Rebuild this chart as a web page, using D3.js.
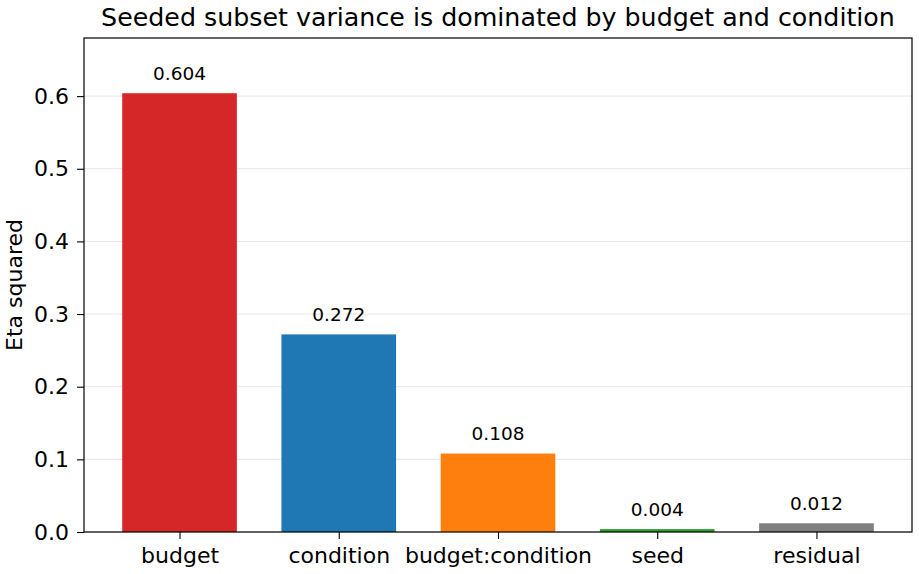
<!DOCTYPE html>
<html>
<head>
<meta charset="utf-8">
<script src="https://cdn.jsdelivr.net/npm/d3@7"></script>
<style>
  body { margin: 0; background: #fff; }
  text { font-family: "DejaVu Sans", sans-serif; fill: #000; }
</style>
</head>
<body>
<svg id="chart"></svg>
<script>
// data
var terms = ["budget", "condition", "budget:condition", "seed", "residual"];
var etaSq = [0.604, 0.272, 0.108, 0.004, 0.012];
var barColors = ["#d62728", "#1f77b4", "#ff7f0e", "#2ca02c", "#7f7f7f"];
var yTicks = [0.0, 0.1, 0.2, 0.3, 0.4, 0.5, 0.6];

var size = { width: 919, height: 574 };
var margin = { top: 38, right: 7, bottom: 42, left: 84 };
var width = size.width - margin.left - margin.right;
var height = size.height - margin.top - margin.bottom;

var svg = d3.select("#chart")
  .attr("width", size.width)
  .attr("height", size.height);

var g = svg.append("g")
  .attr("transform", "translate(" + margin.left + "," + margin.top + ")");

// numeric x like matplotlib: -0.6 .. 4.6
var x = d3.scaleLinear()
  .domain([-0.6, terms.length - 0.4])
  .range([0, width]);
var barW = 0.72;

var y = d3.scaleLinear()
  .domain([0, 0.68])
  .range([height, 0]);

// grid
g.append("g")
  .selectAll("line")
  .data(yTicks)
  .enter()
  .append("line")
  .attr("x1", 0)
  .attr("x2", width)
  .attr("y1", function(d){ return y(d); })
  .attr("y2", function(d){ return y(d); })
  .attr("stroke", "#e6e6e6")
  .attr("stroke-width", 1);

// bars
g.selectAll("rect.bar")
  .data(etaSq)
  .enter()
  .append("rect")
  .attr("class", "bar")
  .attr("x", function(d, i){ return x(i - barW / 2); })
  .attr("width", x(barW) - x(0))
  .attr("y", function(d){ return y(d); })
  .attr("height", function(d){ return height - y(d); })
  .attr("fill", function(d, i){ return barColors[i]; });

// value labels
g.selectAll("text.val")
  .data(etaSq)
  .enter()
  .append("text")
  .attr("class", "val")
  .attr("x", function(d, i){ return x(i); })
  .attr("y", function(d){ return y(d) - 13.5; })
  .attr("text-anchor", "middle")
  .style("font-size", "18.5px")
  .text(function(d){ return d3.format(".3f")(d); });

// axes
var yAxis = d3.axisLeft(y)
  .tickValues(yTicks)
  .tickFormat(d3.format(".1f"))
  .tickSize(7)
  .tickPadding(8);

var xAxis = d3.axisBottom(x)
  .tickValues(d3.range(terms.length))
  .tickFormat(function(i){ return terms[i]; })
  .tickSize(7)
  .tickPadding(8);

var yg = g.append("g").call(yAxis);
var xg = g.append("g")
  .attr("transform", "translate(0," + height + ")")
  .call(xAxis);

[yg, xg].forEach(function(a){
  a.select(".domain").remove();
  a.selectAll("line").attr("stroke", "#000").attr("stroke-width", 1.1);
  a.selectAll("text").style("font-size", "22px").attr("fill", "#000");
});

// frame
g.append("rect")
  .attr("x", 0)
  .attr("y", 0)
  .attr("width", width)
  .attr("height", height)
  .attr("fill", "none")
  .attr("stroke", "#000")
  .attr("stroke-width", 1.2);

// labels
svg.append("text")
  .attr("x", margin.left + width / 2)
  .attr("y", 26)
  .attr("text-anchor", "middle")
  .style("font-size", "25.3px")
  .text("Seeded subset variance is dominated by budget and condition");

svg.append("text")
  .attr("transform", "translate(22," + (margin.top + height / 2) + ") rotate(-90)")
  .attr("text-anchor", "middle")
  .style("font-size", "22px")
  .text("Eta squared");
</script>
</body>
</html>
